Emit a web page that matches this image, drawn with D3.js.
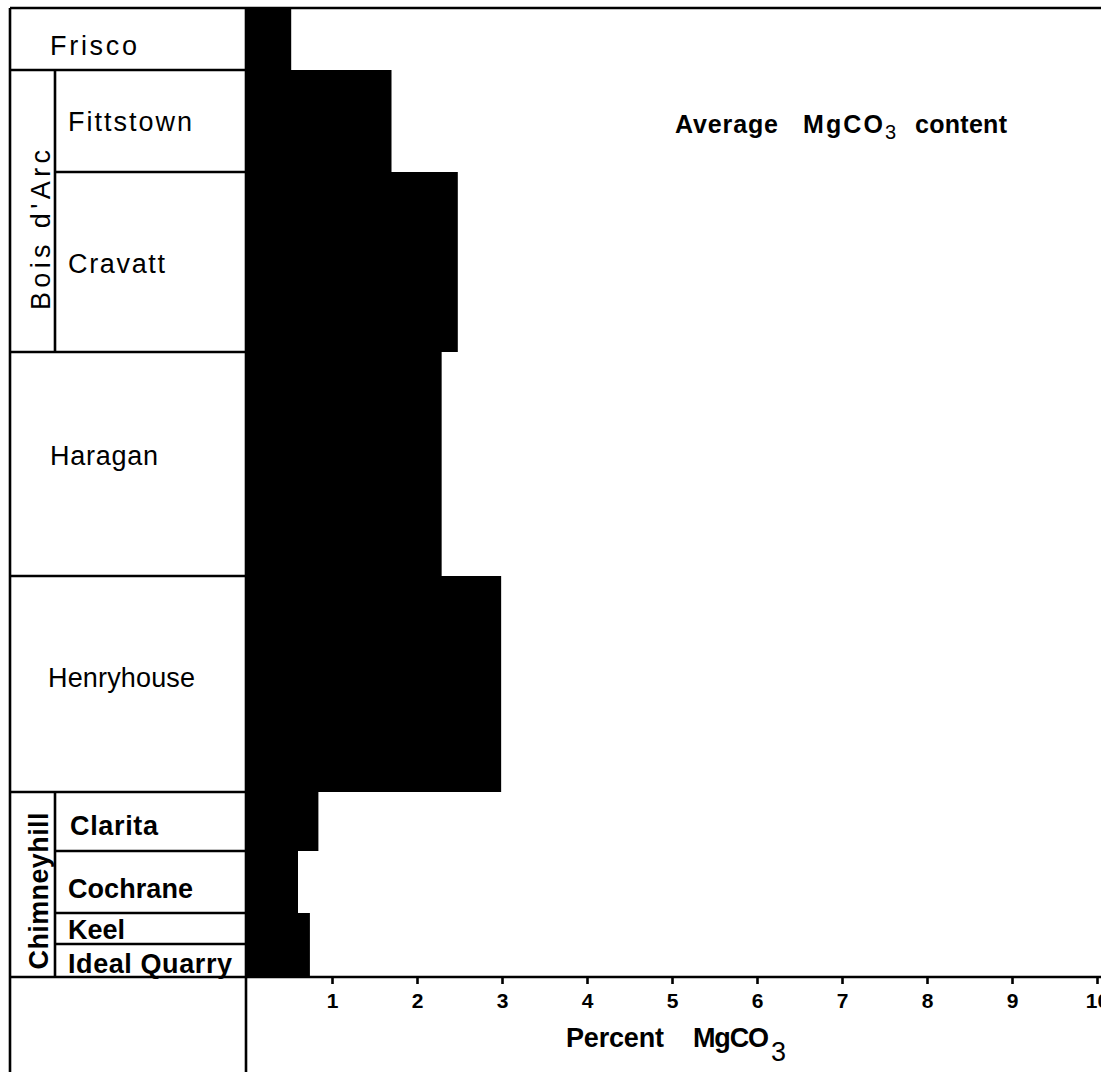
<!DOCTYPE html>
<html><head><meta charset="utf-8">
<script src="https://cdn.jsdelivr.net/npm/d3@7"></script>
<style>
html,body{margin:0;padding:0;background:#fff;}
text{font-family:"Liberation Sans",Arial,sans-serif;fill:#000;}
</style></head>
<body>
<svg id="c" width="1101" height="1072"></svg>
<script>
// Formations, top to bottom
const formations = ["Frisco","Fittstown","Cravatt","Haragan","Henryhouse","Clarita","Cochrane","Keel","Ideal Quarry"];
// Relative thickness of each unit as drawn (arbitrary units)
const thickness = [62, 102, 180, 224, 216, 59, 62, 31, 33];
// Average MgCO3 percent
const mgco3 = [0.52, 1.70, 2.48, 2.29, 2.99, 0.84, 0.60, 0.74, 0.74];
// Group membership (null = none)
const groups = [null, "Bois d'Arc", "Bois d'Arc", null, null, "Chimneyhill", "Chimneyhill", "Chimneyhill", "Chimneyhill"];
const groupNames = ["Bois d'Arc", "Chimneyhill"];
const tickValues = [1,2,3,4,5,6,7,8,9,10];

const svg = d3.select("#c");
const W = 1101, H = 1072;
const colL = 10, colSub = 55, colR = 246;
const topY = 8, axisY = 977;

// cumulative boundaries
const cum = [0];
thickness.forEach((t,i)=>cum.push(cum[i]+t));
const y = d3.scaleLinear().domain([0, cum[cum.length-1]]).range([topY, axisY]);
const x = d3.scaleLinear().domain([0, 10]).range([247, 1097]);

const rows = formations.map((f,i)=>({name:f, v:mgco3[i], y0:cum[i], y1:cum[i+1], g:groups[i]}));

// bars
svg.append("g").selectAll("rect").data(rows).join("rect")
  .attr("x", x(0) - 1)
  .attr("y", d=>y(d.y0))
  .attr("width", d=>x(d.v) - x(0) + 1)
  .attr("height", d=>y(d.y1)-y(d.y0))
  .attr("fill","#000");

const lines = svg.append("g").attr("stroke","#000").attr("stroke-width",2.6).attr("fill","none");
// frame lines
lines.append("line").attr("x1",colL).attr("x2",W).attr("y1",topY).attr("y2",topY);
lines.append("line").attr("x1",colL).attr("x2",colL).attr("y1",topY).attr("y2",H);
lines.append("line").attr("x1",colR).attr("x2",colR).attr("y1",topY).attr("y2",H);
lines.append("line").attr("x1",colL).attr("x2",W).attr("y1",axisY).attr("y2",axisY);

// row separators in the left column
rows.forEach((d,i)=>{
  if(i===rows.length-1) return;
  const next = rows[i+1];
  const inner = d.g && next.g && d.g===next.g;
  lines.append("line").attr("x1", inner? colSub : colL).attr("x2", colR)
    .attr("y1", y(d.y1)).attr("y2", y(d.y1));
});

// group sub-columns
groupNames.forEach(g=>{
  const rs = rows.filter(r=>r.g===g);
  const y0 = y(rs[0].y0), y1 = y(rs[rs.length-1].y1);
  lines.append("line").attr("x1",colSub).attr("x2",colSub).attr("y1",y0).attr("y2",y1);
});

// group labels (rotated)
const gl = [{name:"Bois d'Arc", bx:50, cy:230, len:160, bold:false},{name:"Chimneyhill", bx:48, cy:891, len:157, bold:true}];
svg.append("g").selectAll("text").data(gl).join("text")
  .attr("transform", d=>`translate(${d.bx},${d.cy}) rotate(-90)`)
  .attr("x", d=>-d.len/2)
  .attr("textLength", d=>d.len)
  .attr("lengthAdjust","spacing")
  .style("font-size","27px")
  .style("font-weight", d=>d.bold?"bold":"normal")
  .text(d=>d.name);

// formation label layout
const labelLayout = {
  "Frisco":[50,55,87], "Fittstown":[68,131,124], "Cravatt":[68,273,97], "Haragan":[50,465,108],
  "Henryhouse":[48,687,147], "Clarita":[70,835,88], "Cochrane":[68,898,125], "Keel":[68,939,57], "Ideal Quarry":[68,973,164]
};
const boldSet = new Set(["Clarita","Cochrane","Keel","Ideal Quarry"]);
svg.append("g").selectAll("text").data(rows).join("text")
  .attr("x", d=>labelLayout[d.name][0])
  .attr("y", d=>labelLayout[d.name][1])
  .attr("textLength", d=>labelLayout[d.name][2])
  .attr("lengthAdjust","spacing")
  .style("font-size","27px")
  .style("font-weight", d=>boldSet.has(d.name)?"bold":"normal")
  .text(d=>d.name);

// x axis
const axis = d3.axisBottom(x).tickValues(tickValues).tickSize(7).tickPadding(9).tickFormat(d3.format("d"));
const ag = svg.append("g").attr("transform",`translate(0,${axisY})`).call(axis);
ag.select(".domain").remove();
ag.selectAll(".tick line").attr("stroke","#000").attr("stroke-width",2.6);
ag.selectAll(".tick text").style("font-family","Liberation Sans, Arial, sans-serif").style("font-size","21px").style("font-weight","bold").attr("fill","#000");

// axis title
const at = svg.append("g").style("font-weight","bold");
at.append("text").attr("x",566).attr("y",1047).attr("textLength",98).attr("lengthAdjust","spacing").style("font-size","27px").text("Percent");
at.append("text").attr("x",693).attr("y",1047).attr("textLength",76).attr("lengthAdjust","spacing").style("font-size","27px").text("MgCO");
at.append("text").attr("x",771).attr("y",1061).style("font-size","27px").style("font-weight","normal").text("3");

// chart title
const tt = svg.append("g").style("font-weight","bold");
tt.append("text").attr("x",675).attr("y",133).attr("textLength",103).attr("lengthAdjust","spacing").style("font-size","25px").text("Average");
tt.append("text").attr("x",803).attr("y",133).attr("textLength",80).attr("lengthAdjust","spacing").style("font-size","25px").text("MgCO");
tt.append("text").attr("x",885).attr("y",139).style("font-size","20px").style("font-weight","normal").text("3");
tt.append("text").attr("x",915).attr("y",133).attr("textLength",92).attr("lengthAdjust","spacing").style("font-size","25px").text("content");
</script>
</body></html>
